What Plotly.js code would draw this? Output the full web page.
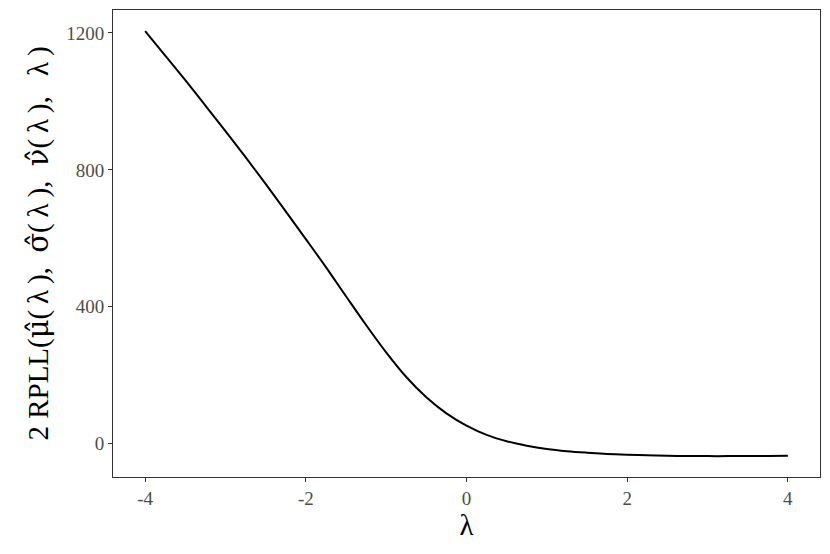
<!DOCTYPE html>
<html>
<head>
<meta charset="utf-8">
<script src="https://cdn.plot.ly/plotly-3.0.1.min.js"></script>
<style>
  body { margin: 0; background: #fff; }
  #chart { width: 830px; height: 554px; }
</style>
</head>
<body>
<div id="chart"></div>
<script>
// lambda grid and profile values
const lambdaVals = [-4, -3.75, -3.5, -3.25, -3, -2.75, -2.5, -2.25, -2, -1.75, -1.5, -1.25, -1,
  -0.75, -0.5, -0.25, 0, 0.25, 0.5, 0.75, 1, 1.25, 1.5, 1.75, 2, 2.25, 2.5, 2.75, 3, 3.25, 3.5, 3.75, 4];
const rpllVals = [1205, 1134, 1062, 988, 913, 837, 759, 679, 598, 516, 431, 347, 267,
  195, 136, 89, 53, 26, 7.5, -5.5, -15, -21.5, -26, -29.5, -32, -33.8, -35, -35.7, -36, -36, -35.8, -35.4, -35];

const xTicks = [-4, -2, 0, 2, 4];
const yTicks = [0, 400, 800, 1200];

const serif = '"Liberation Serif", "DejaVu Serif", serif';

// hatted greek letters; DejaVu places the combining circumflex properly
function hat(ch) {
  return '<span style="font-family:\'DejaVu Serif\'">' + ch + '\u0302</span>';
}
const lam = '\u2009λ\u2009';
const yTitle = '2 RPLL(' + hat('μ') + '(' + lam + '),\u00a0 ' + hat('σ') + '(' + lam + '),\u00a0 ' +
  hat('ν') + '(' + lam + '),\u00a0 ' + lam + ')';

const trace = {
  x: lambdaVals,
  y: rpllVals,
  type: 'scatter',
  mode: 'lines',
  line: { color: '#000000', width: 2, shape: 'spline', smoothing: 1 },
  hoverinfo: 'skip'
};

const layout = {
  width: 830,
  height: 554,
  margin: { l: 113, r: 10, t: 10, b: 77 },
  paper_bgcolor: '#ffffff',
  plot_bgcolor: '#ffffff',
  showlegend: false,
  font: { family: serif },
  xaxis: {
    range: [-4.4, 4.4],
    tickvals: xTicks,
    ticktext: xTicks.map(String),
    showgrid: false,
    zeroline: false,
    showline: true,
    mirror: true,
    linecolor: '#333333',
    linewidth: 1,
    ticks: 'outside',
    ticklen: 4,
    tickcolor: '#333333',
    tickfont: { family: serif, size: 19, color: '#4d4d4d' },
    title: { text: 'λ', font: { family: serif, size: 29, color: '#000000' }, standoff: 6 }
  },
  yaxis: {
    range: [-97, 1267],
    tickvals: yTicks,
    ticktext: yTicks.map(String),
    showgrid: false,
    zeroline: false,
    showline: true,
    mirror: true,
    linecolor: '#333333',
    linewidth: 1,
    ticks: 'outside',
    ticklen: 4,
    tickcolor: '#333333',
    tickfont: { family: serif, size: 19, color: '#4d4d4d' },
    title: {
      text: yTitle,
      font: { family: serif, size: 29, color: '#000000' },
      standoff: 9
    }
  }
};

Plotly.newPlot('chart', [trace], layout, { displayModeBar: false, staticPlot: true });
</script>
</body>
</html>
